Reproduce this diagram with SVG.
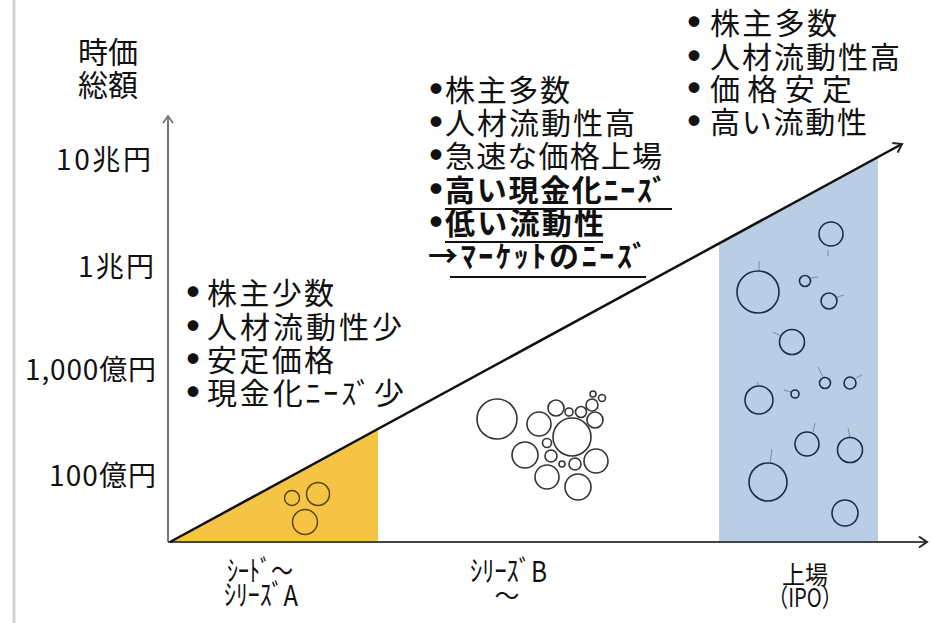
<svg xmlns="http://www.w3.org/2000/svg" width="932" height="623" viewBox="0 0 932 623">
<style>
text{font-family:"Noto Sans CJK JP","Noto Sans",sans-serif;fill:#111;}
.lab{font-size:28px;}
.ttl{font-size:30px;}
.bl{font-size:30px;}
.bb{font-size:30px;font-weight:bold;}
.dot{font-size:12px;text-anchor:middle;}
.st{font-size:25px;}
.sk{font-size:29px;}
.ul{stroke:#111;stroke-width:2;}
.bw{fill:none;stroke:#333;stroke-width:1.6;}
.by{fill:none;stroke:#5a4418;stroke-width:1.5;}
.bn{fill:none;stroke:#1e2b45;stroke-width:1.6;}
.tk{stroke:#6b7890;stroke-width:0.8;}
</style>
<defs>
<marker id="chev" markerUnits="userSpaceOnUse" markerWidth="14" markerHeight="14" refX="11" refY="7" orient="auto">
<path d="M3,1.5 L11,7 L3,12.5" fill="none" stroke="#222" stroke-width="2"/>
</marker>
<marker id="chevg" markerUnits="userSpaceOnUse" markerWidth="14" markerHeight="14" refX="11" refY="7" orient="auto">
<path d="M4,2 L11,7 L4,12" fill="none" stroke="#777" stroke-width="1.8"/>
</marker>
</defs>
<rect width="932" height="623" fill="#fff"/>
<line x1="14" y1="0" x2="14" y2="623" stroke="#d4d4d4" stroke-width="3"/>

<g id="seed-area">
<polygon points="170,542 378,430 378,542" fill="#F5C445"/>
<circle class="by" cx="292" cy="498" r="7.5"/>
<circle class="by" cx="318" cy="494" r="11.5"/>
<circle class="by" cx="305" cy="522" r="12.5"/>
</g>

<g id="ipo-area">
<polygon points="719,244 878,157 878,542 719,542" fill="#B9CDE5"/>
<circle class="bn" cx="831" cy="234" r="12"/>
<circle class="bn" cx="758" cy="292" r="21"/>
<circle class="bn" cx="805" cy="281" r="5.5"/>
<circle class="bn" cx="829" cy="301" r="8"/>
<circle class="bn" cx="792" cy="342" r="12.5"/>
<circle class="bn" cx="825" cy="383" r="5.5"/>
<circle class="bn" cx="850" cy="383" r="6"/>
<circle class="bn" cx="759" cy="400" r="14"/>
<circle class="bn" cx="795" cy="394" r="4"/>
<circle class="bn" cx="807" cy="444" r="12"/>
<circle class="bn" cx="850" cy="450" r="12.5"/>
<circle class="bn" cx="768" cy="482" r="19"/>
<circle class="bn" cx="845" cy="513" r="13"/>
<line class="tk" x1="759" y1="261" x2="759" y2="270"/>
<line class="tk" x1="828" y1="250" x2="828" y2="256"/>
<line class="tk" x1="811" y1="278" x2="818" y2="277"/>
<line class="tk" x1="837" y1="297" x2="844" y2="295"/>
<line class="tk" x1="773" y1="332" x2="781" y2="336"/>
<line class="tk" x1="757" y1="382" x2="759" y2="386"/>
<line class="tk" x1="784" y1="390" x2="791" y2="392"/>
<line class="tk" x1="818" y1="367" x2="823" y2="377"/>
<line class="tk" x1="856" y1="378" x2="862" y2="375"/>
<line class="tk" x1="815" y1="423" x2="813" y2="432"/>
<line class="tk" x1="848" y1="428" x2="850" y2="437"/>
<line class="tk" x1="772" y1="449" x2="770" y2="463"/>
</g>

<g id="seriesb-bubbles">
<circle class="bw" cx="497" cy="419" r="20"/>
<circle class="bw" cx="539" cy="424" r="12"/>
<circle class="bw" cx="556" cy="408" r="8"/>
<circle class="bw" cx="569" cy="412" r="4"/>
<circle class="bw" cx="581" cy="412" r="5.5"/>
<circle class="bw" cx="592" cy="405" r="6"/>
<circle class="bw" cx="595" cy="420" r="8"/>
<circle class="bw" cx="593" cy="394" r="3"/>
<circle class="bw" cx="602" cy="398" r="3.5"/>
<circle class="bw" cx="572" cy="437" r="19"/>
<circle class="bw" cx="525" cy="455" r="13"/>
<circle class="bw" cx="547" cy="443" r="4.5"/>
<circle class="bw" cx="551" cy="456" r="6"/>
<circle class="bw" cx="562" cy="464" r="3"/>
<circle class="bw" cx="575" cy="464" r="6"/>
<circle class="bw" cx="596" cy="461" r="12"/>
<circle class="bw" cx="547" cy="477" r="12"/>
<circle class="bw" cx="578" cy="487" r="13"/>
</g>

<g id="connectors">
<line x1="168" y1="542" x2="168" y2="116" stroke="#777" stroke-width="2" marker-end="url(#chevg)"/>
<line x1="168" y1="542" x2="927" y2="542" stroke="#444" stroke-width="2" marker-end="url(#chev)"/>
<line x1="170" y1="542" x2="902" y2="144" stroke="#111" stroke-width="2.5" marker-end="url(#chev)"/>
</g>

<g id="y-axis-labels">
<text class="ttl" x="78" y="63" textLength="60">時価</text>
<text class="ttl" x="78" y="96" textLength="60">総額</text>
<text class="lab" x="56" y="170" textLength="95">10兆円</text>
<text class="lab" x="78" y="277" textLength="76">1兆円</text>
<text class="lab" x="25" y="380" textLength="131">1,000億円</text>
<text class="lab" x="49" y="486" textLength="107">100億円</text>
</g>

<g id="seed-notes">
<text class="dot" x="193" y="297">●</text><text class="bl" x="207" y="304" textLength="127">株主少数</text>
<text class="dot" x="193" y="331">●</text><text class="bl" x="207" y="338" textLength="195">人材流動性少</text>
<text class="dot" x="193" y="364">●</text><text class="bl" x="207" y="371" textLength="127">安定価格</text>
<text class="dot" x="193" y="397">●</text><text class="bl" x="207" y="404" textLength="197">現金化ﾆｰｽﾞ少</text>
</g>

<g id="seriesb-notes">
<text class="dot" x="436" y="94">●</text><text class="bl" x="445" y="101" textLength="125">株主多数</text>
<text class="dot" x="436" y="127">●</text><text class="bl" x="445" y="134" textLength="190">人材流動性高</text>
<text class="dot" x="436" y="160">●</text><text class="bl" x="445" y="167" textLength="217">急速な価格上場</text>
<text class="dot" x="436" y="194">●</text><text class="bb" x="445" y="201" textLength="222">高い現金化ﾆｰｽﾞ</text>
<line class="ul" x1="445" y1="209" x2="672" y2="209"/>
<text class="dot" x="436" y="227">●</text><text class="bb" x="445" y="234" textLength="159">低い流動性</text>
<line class="ul" x1="445" y1="242" x2="603" y2="242"/>
<text class="bb" x="428" y="267" textLength="219">→ﾏｰｹｯﾄのﾆｰｽﾞ</text>
<line class="ul" x1="450" y1="277" x2="646" y2="277"/>
</g>

<g id="ipo-notes">
<text class="dot" x="694" y="27">●</text><text class="bl" x="710" y="34" textLength="127">株主多数</text>
<text class="dot" x="694" y="61">●</text><text class="bl" x="710" y="68" textLength="190">人材流動性高</text>
<text class="dot" x="694" y="93">●</text><text class="bl" x="710" y="100" textLength="142">価格安定</text>
<text class="dot" x="694" y="126">●</text><text class="bl" x="710" y="133" textLength="157">高い流動性</text>
</g>

<g id="stage-labels">
<text class="sk" x="227" y="582" textLength="66" lengthAdjust="spacingAndGlyphs">ｼｰﾄﾞ～</text>
<text class="sk" x="224" y="606" textLength="74" lengthAdjust="spacingAndGlyphs">ｼﾘｰｽﾞA</text>
<text class="sk" x="470" y="582" textLength="77" lengthAdjust="spacingAndGlyphs">ｼﾘｰｽﾞB</text>
<text class="st" x="507" y="605" text-anchor="middle">～</text>
<text class="st" x="782" y="584" textLength="46" lengthAdjust="spacingAndGlyphs">上場</text>
<text class="st" x="768" y="607" textLength="74" lengthAdjust="spacingAndGlyphs">（IPO）</text>
</g>
</svg>
